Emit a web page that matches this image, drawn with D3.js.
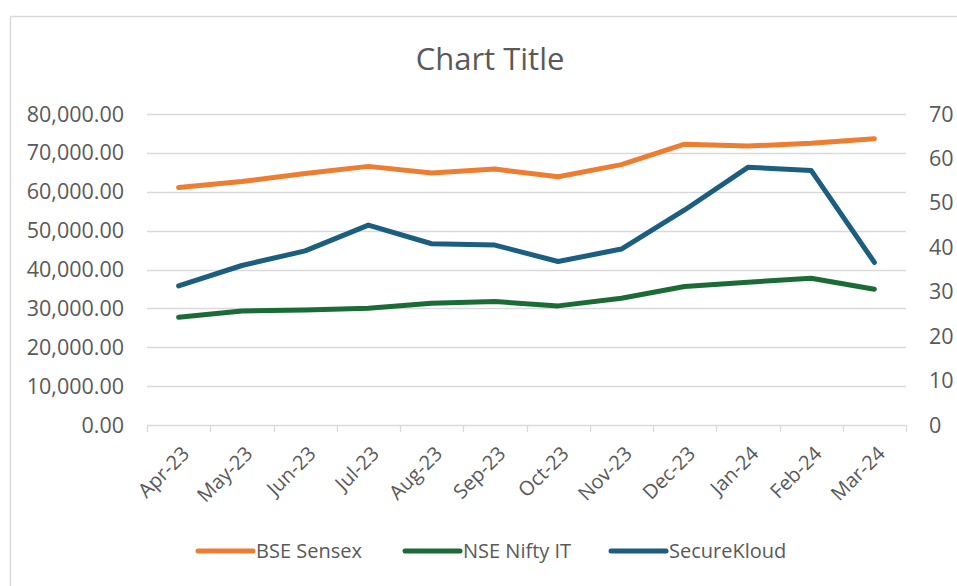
<!DOCTYPE html>
<html>
<head>
    <meta charset="utf-8">
    <title>Chart Title</title>
    <script src="https://cdn.jsdelivr.net/npm/d3@7"></script>
    <style>
        body { margin: 0; background: #fff; }
        text { font-family: "Open Sans", sans-serif; fill: #595959; }
    </style>
</head>
<body>
<svg id="chart" width="957" height="586"></svg>
<script>

    // values
    var months = ["Apr-23", "May-23", "Jun-23", "Jul-23", "Aug-23", "Sep-23",
                  "Oct-23", "Nov-23", "Dec-23", "Jan-24", "Feb-24", "Mar-24"];
    var sensex = [61112, 62622, 64718, 66527, 64831, 65828, 63874, 66988, 72240, 71752, 72500, 73651];
    var niftyIT = [27730, 29350, 29610, 30040, 31330, 31750, 30640, 32620, 35610, 36740, 37770, 34940];
    var secureKloud = [31.3, 35.9, 39.2, 45.0, 40.8, 40.5, 36.8, 39.6, 48.4, 58.0, 57.3, 36.6];
    var leftTicks = [0, 10000, 20000, 30000, 40000, 50000, 60000, 70000, 80000];
    var rightTicks = [0, 10, 20, 30, 40, 50, 60, 70];

    var series = [
        { name: "BSE Sensex", values: sensex, color: "#ed7d31", axis: "left" },
        { name: "NSE Nifty IT", values: niftyIT, color: "#1a6b35", axis: "left" },
        { name: "SecureKloud", values: secureKloud, color: "#1c5e80", axis: "right" }
    ];

    var svg = d3.select("#chart");
    var plot = { left: 147, right: 906, top: 114, bottom: 425 };

    // chart area border (runs off the right and bottom edge)
    svg.append("rect")
        .attr("x", 10.5).attr("y", 16.5)
        .attr("width", 960).attr("height", 600)
        .attr("fill", "none").attr("stroke", "#d9d9d9").attr("stroke-width", 1.5);

    svg.append("text")
        .attr("x", 490).attr("y", 70)
        .attr("text-anchor", "middle")
        .style("font-size", "31px")
        .text("Chart Title");

    var x = d3.scaleBand().domain(months).range([plot.left, plot.right]);
    var yL = d3.scaleLinear().domain([0, 80000]).range([plot.bottom, plot.top]);
    var yR = d3.scaleLinear().domain([0, 70]).range([plot.bottom, plot.top]);

    // gridlines
    svg.append("g").selectAll("line")
        .data(leftTicks.slice(1))
        .enter().append("line")
        .attr("x1", plot.left).attr("x2", plot.right)
        .attr("y1", function(d) { return Math.round(yL(d)) + 0.5; })
        .attr("y2", function(d) { return Math.round(yL(d)) + 0.5; })
        .attr("stroke", "#d9d9d9").attr("stroke-width", 1.3);

    // x axis line + ticks
    var xAxis = svg.append("g");
    xAxis.append("line")
        .attr("x1", plot.left).attr("x2", plot.right)
        .attr("y1", plot.bottom + 0.5).attr("y2", plot.bottom + 0.5)
        .attr("stroke", "#d9d9d9").attr("stroke-width", 1.3);
    var bounds = months.map(function(m) { return x(m); }).concat([plot.right]);
    xAxis.selectAll(".tick")
        .data(bounds)
        .enter().append("line")
        .attr("x1", function(d) { return Math.round(d) + 0.5; })
        .attr("x2", function(d) { return Math.round(d) + 0.5; })
        .attr("y1", plot.bottom).attr("y2", plot.bottom + 7)
        .attr("stroke", "#d9d9d9").attr("stroke-width", 1.3);

    xAxis.selectAll("text")
        .data(months)
        .enter().append("text")
        .attr("text-anchor", "end")
        .attr("transform", function(d) {
            var cx = x(d) + x.bandwidth() / 2 + 12;
            return "translate(" + cx + "," + 455 + ") rotate(-45)";
        })
        .style("font-size", "20px")
        .text(function(d) { return d; });

    // left axis labels
    svg.append("g").selectAll("text")
        .data(leftTicks)
        .enter().append("text")
        .attr("x", 124)
        .attr("y", function(d) { return yL(d) + 7.5; })
        .attr("text-anchor", "end")
        .style("font-size", "21.5px")
        .text(function(d) { return d3.format(",.2f")(d); });

    // right axis labels
    svg.append("g").selectAll("text")
        .data(rightTicks)
        .enter().append("text")
        .attr("x", 929)
        .attr("y", function(d) { return yR(d) + 7.5; })
        .attr("text-anchor", "start")
        .style("font-size", "21.5px")
        .text(function(d) { return d; });

    // lines
    series.forEach(function(s) {
        var yScale = s.axis === "left" ? yL : yR;
        var line = d3.line()
            .x(function(d, i) { return x(months[i]) + x.bandwidth() / 2; })
            .y(function(d) { return yScale(d); });
        svg.append("path")
            .datum(s.values)
            .attr("d", line)
            .attr("fill", "none")
            .attr("stroke", s.color)
            .attr("stroke-width", 5)
            .attr("stroke-linejoin", "round")
            .attr("stroke-linecap", "round");
    });

    // legend
    var legendX = [198, 405, 611];
    var legend = svg.append("g").selectAll("g")
        .data(series)
        .enter().append("g")
        .attr("transform", function(d, i) { return "translate(" + legendX[i] + ",551)"; });
    legend.append("line")
        .attr("x1", 0).attr("x2", 55)
        .attr("stroke", function(d) { return d.color; })
        .attr("stroke-width", 5)
        .attr("stroke-linecap", "round");
    legend.append("text")
        .attr("x", 58).attr("y", 7)
        .style("font-size", "20px")
        .text(function(d) { return d.name; });

</script>
</body>
</html>
